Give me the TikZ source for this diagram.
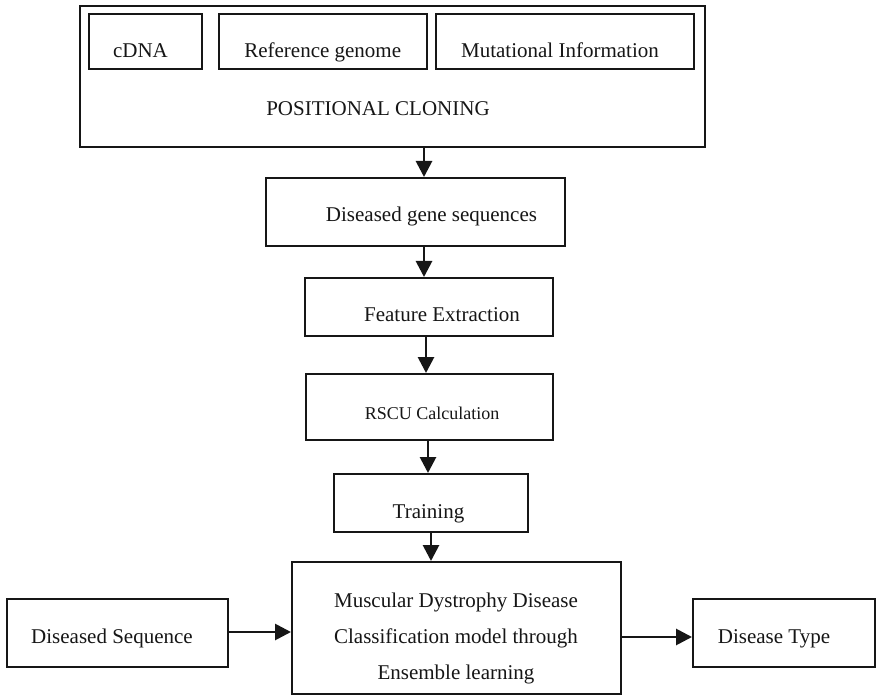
\documentclass[tikz,border=0pt]{standalone}
\usepackage{fontspec}
\setmainfont{Liberation Serif}
\usetikzlibrary{arrows.meta}
\definecolor{ink}{HTML}{161616}
\begin{document}
\begin{tikzpicture}[x=1pt,y=-1pt,
  box/.style={draw=ink,line width=2pt,rectangle,inner sep=0pt,fill=white},
  lbl/.style={anchor=base,inner sep=0pt,text=ink,font=\fontsize{21}{25}\selectfont},
  small/.style={font=\fontsize{18}{22}\selectfont},
  arr/.style={draw=ink,line width=2.8pt,-{Triangle[length=16pt,width=16pt]}}]
\useasboundingbox (0,0) rectangle (876,695);

% Positional cloning block with its three inputs
\node[box,minimum width=625pt,minimum height=141pt] (outer) at (392.5,76.5) {};
\node[box,minimum width=113pt,minimum height=55pt] (cdna) at (145.5,41.5) {};
\node[box,minimum width=208pt,minimum height=55pt] (ref) at (323,41.5) {};
\node[box,minimum width=258pt,minimum height=55pt] (mut) at (565,41.5) {};
\node[lbl] (tcdna) at (140.5,58) {cDNA};
\node[lbl] (tref) at (322.7,58) {Reference genome};
\node[lbl] (tmut) at (560,58) {Mutational Information};
\node[lbl] (tpos) at (378,116) {POSITIONAL CLONING};

% Processing chain
\node[box,minimum width=299pt,minimum height=68pt] (dgs) at (415.5,212) {};
\node[lbl] (tdgs) at (431.5,222) {Diseased gene sequences};
\node[box,minimum width=248pt,minimum height=58pt] (fe) at (429,307) {};
\node[lbl] (tfe) at (442,321) {Feature Extraction};
\node[box,minimum width=247pt,minimum height=66pt] (rscu) at (429.5,407) {};
\node[lbl,small] (trscu) at (432,419) {RSCU Calculation};
\node[box,minimum width=194pt,minimum height=58pt] (train) at (431,503) {};
\node[lbl] (ttrain) at (428.5,518) {Training};

% Classifier with input and output
\node[box,minimum width=329pt,minimum height=132pt] (model) at (456.5,628) {};
\node[lbl] (tm1) at (456,607) {Muscular Dystrophy Disease};
\node[lbl] (tm2) at (456,643) {Classification model through};
\node[lbl] (tm3) at (456,679.5) {Ensemble learning};
\node[box,minimum width=221pt,minimum height=68pt] (dseq) at (117.5,633) {};
\node[lbl] (tdseq) at (112,643) {Diseased Sequence};
\node[box,minimum width=182pt,minimum height=68pt] (dtype) at (784,633) {};
\node[lbl] (tdtype) at (774,643) {Disease Type};

% Connectors
\draw[arr] (outer.south -| 424,0) -- (dgs.north -| 424,0);
\draw[arr] (dgs.south -| 424,0) -- (fe.north -| 424,0);
\draw[arr] (fe.south -| 426,0) -- (rscu.north -| 426,0);
\draw[arr] (rscu.south -| 428,0) -- (train.north -| 428,0);
\draw[arr] (train.south -| 431,0) -- (model.north -| 431,0);
\draw[arr] (dseq.east |- 0,632) -- (model.west |- 0,632);
\draw[arr] (model.east |- 0,637) -- (dtype.west |- 0,637);
\end{tikzpicture}
\end{document}
